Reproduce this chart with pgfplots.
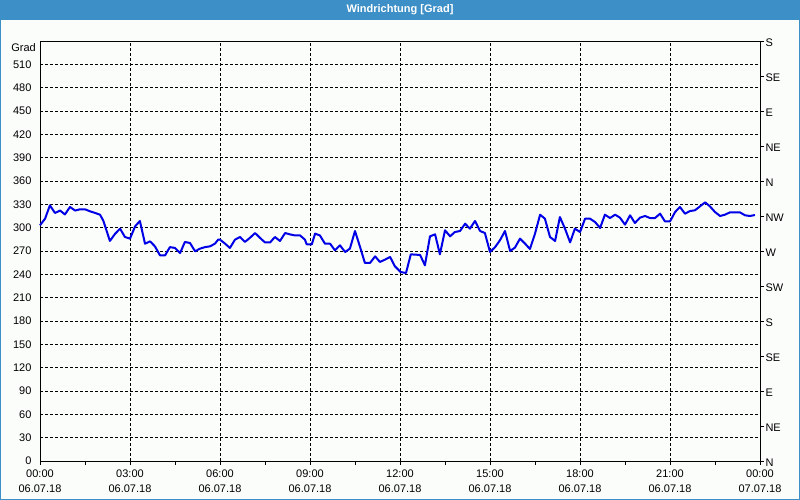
\documentclass[border=0pt]{standalone}
\usepackage{pgfplots}
\pgfplotsset{compat=1.18}
\usepackage{fontspec}
\setmainfont{Liberation Sans}
\definecolor{barblue}{RGB}{60,143,199}
\definecolor{bgc}{RGB}{251,253,251}
\definecolor{lineblue}{RGB}{0,0,230}
\pgfplotstableread{
h v
0.00 303
0.17 311.6
0.33 328.7
0.50 318.9
0.67 322
0.83 317
1.00 326.6
1.17 322
1.33 323.6
1.50 323.6
1.67 321
1.83 319
2.00 316.7
2.11 309
2.33 282.9
2.50 292
2.67 298.7
2.83 288
3.00 285.9
3.17 301.7
3.33 308.6
3.50 279.4
3.67 282.4
3.83 276
4.00 264.4
4.17 264.4
4.33 275
4.50 273.9
4.67 267.4
4.83 281.6
5.00 280.3
5.17 269.6
5.33 273
5.50 275
5.67 276
5.83 279.4
5.94 284.6
6.00 284.6
6.17 279.4
6.33 273.9
6.50 284.6
6.67 288
6.83 281.6
7.00 287
7.17 293.1
7.33 287
7.50 281
7.67 281
7.83 288
8.00 282.9
8.17 293.1
8.33 291.4
8.50 290
8.67 290
8.83 284.6
8.89 278.6
9.06 278.6
9.17 292.3
9.33 290
9.50 279.4
9.67 279.4
9.83 270.9
10.00 277.3
10.17 268.7
10.33 273
10.50 295.7
10.67 275
10.83 254.6
11.00 254.6
11.17 263.1
11.33 255.9
11.50 258.9
11.67 262.3
11.83 250.3
12.02 243
12.20 241.7
12.36 265.7
12.67 264.9
12.83 251.6
13.00 288.9
13.17 291.4
13.33 265.7
13.50 296.6
13.67 288.9
13.83 294.4
14.00 295.7
14.17 305.1
14.33 298.7
14.50 308.6
14.67 295.7
14.83 293.1
15.00 268.7
15.17 275
15.33 283.7
15.50 295.7
15.67 270
15.83 274.3
16.00 285.9
16.17 279.4
16.33 272.6
16.50 292.3
16.67 316.7
16.83 311.6
17.00 288
17.17 282.9
17.33 313.7
17.50 298.7
17.67 281.1
17.83 298.7
18.00 294.4
18.17 311.6
18.33 311.6
18.50 307.3
18.67 299.6
18.83 316.7
19.00 312.4
19.17 316.7
19.33 312.9
19.50 303.9
19.67 315.9
19.83 306
20.00 312.9
20.17 315
20.33 312.4
20.50 312.4
20.67 318
20.83 308.1
21.00 308.1
21.17 320.1
21.33 326.6
21.50 318
21.67 321.4
21.83 322.3
22.00 327.4
22.17 332.6
22.33 327.4
22.50 320.1
22.67 315
22.83 316.7
23.00 319.7
23.17 319.7
23.33 319.7
23.50 315.9
23.67 315
23.83 316.3
}\winddata
\begin{document}
\begin{tikzpicture}[x=1pt,y=1pt,font=\fontsize{11}{15}\selectfont]
\useasboundingbox (0,0) rectangle (800,500);
\fill[bgc] (0,0) rectangle (800,500);
\fill[barblue] (0,480) rectangle (800,500);
\draw[barblue,line width=1pt] (0.5,0.5) rectangle (799.5,499.5);
\node[text=white,font=\fontsize{11}{13}\selectfont\bfseries] at (400,490) {Windrichtung [Grad]};
\begin{axis}[
  at={(40pt,39pt)}, anchor=south west,
  scale only axis, width=720pt, height=420pt,
  xmin=0, xmax=24, ymin=0, ymax=540,
  axis y line*=left, axis x line*=bottom,
  axis line style={black, line width=0.8pt},
  xtick={0,3,...,24},
  minor xtick={1.5,4.5,...,22.5},
  xticklabels={{00:00\\06.07.18},{03:00\\06.07.18},{06:00\\06.07.18},{09:00\\06.07.18},{12:00\\06.07.18},{15:00\\06.07.18},{18:00\\06.07.18},{21:00\\06.07.18},{00:00\\07.07.18}},
  xticklabel style={align=center, font=\fontsize{11}{15}\selectfont, yshift=-1pt},
  ytick={0,30,...,540},
  yticklabels={0,30,60,90,120,150,180,210,240,270,300,330,360,390,420,450,480,510,{}},
  yticklabel style={font=\fontsize{11}{13}\selectfont, xshift=-1pt},
  tick align=outside,
  major tick length=4pt, minor tick length=4pt,
  ytick style={draw=none},
  xtick style={black, line width=0.8pt},
  minor tick style={black, line width=0.8pt},
  grid=major,
  major grid style={black, line width=0.7pt, dash pattern=on 3pt off 2pt},
  /pgf/number format/assume math mode=true,
  clip=false,
]
\addplot[lineblue, line width=2pt, line join=round] table[x=h,y=v] {\winddata};
\node[anchor=north east, inner sep=0pt, xshift=-4pt, yshift=-2pt, font=\fontsize{11}{13}\selectfont] at (rel axis cs:0,1) {Grad};
\end{axis}
\begin{axis}[
  at={(40pt,39pt)}, anchor=south west,
  scale only axis, width=720pt, height=420pt,
  xmin=0, xmax=24, ymin=0, ymax=540,
  axis y line*=right, axis x line*=top,
  axis line style={black, line width=0.8pt},
  xtick=\empty,
  ytick={0,45,...,540},
  yticklabels={N,NE,E,SE,S,SW,W,NW,N,NE,E,SE,S},
  yticklabel style={font=\fontsize{11}{13}\selectfont, xshift=-2pt, yshift=-2pt},
  tick align=outside, major tick length=4pt,
  ytick style={black, line width=0.8pt},
]
\addplot[draw=none] coordinates {(0,0)};
\end{axis}
\end{tikzpicture}
\end{document}
